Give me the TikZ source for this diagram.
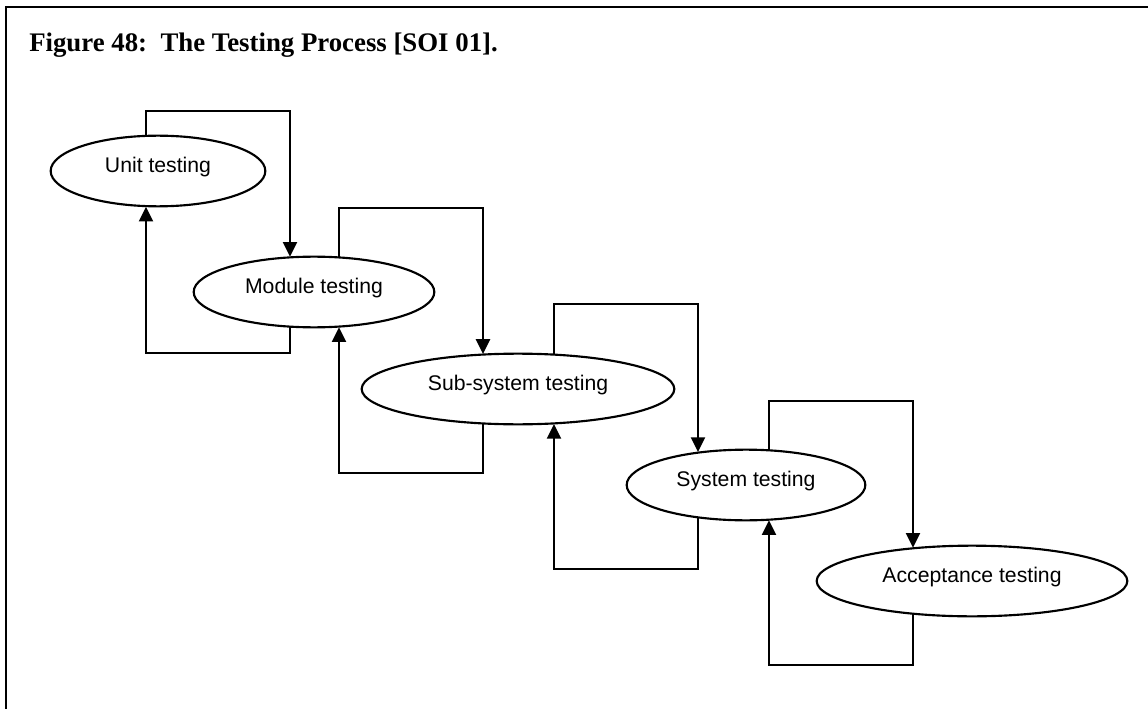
\documentclass[tikz,border=0pt]{standalone}
\usepackage{fontspec}
\setmainfont{Liberation Serif}
\newfontfamily\diagfont{Liberation Sans}
\usetikzlibrary{arrows.meta,shapes.geometric,calc}

\begin{document}
\begin{tikzpicture}[x=0.75pt,y=-0.75pt,
  stage/.style={draw, ellipse, line width=1.6pt, inner sep=0pt,
    minimum height=53pt,
    font=\diagfont\fontsize{15.9}{18}\selectfont,
    text height=0.72em, text depth=0.48em},
  flow/.style={line width=1.5pt, -{Triangle[length=11pt,width=10.5pt]}},
  frame/.style={line width=1.6pt}]
\useasboundingbox (0,0) rectangle (1148,709);

% page frame, open at the bottom
\draw[frame] (1148,7) -| (6,709);

% caption
\node[anchor=base west, inner sep=0pt,
      font=\bfseries\fontsize{20.1}{23}\selectfont] (title) at (29,52)
  {Figure 48:\ \ The Testing Process [SOI 01].};

% testing stages
\node[stage, minimum width=161pt] (unit)   at (158,171) {Unit testing};
\node[stage, minimum width=180.5pt] (module) at (314,292) {Module testing};
\node[stage, minimum width=234.5pt] (sub)    at (518,389) {Sub-system testing};
\node[stage, minimum width=179pt] (system) at (746,485) {System testing};
\node[stage, minimum width=233pt] (accept) at (972,581) {Acceptance testing};

% where the flow lines leave and enter the stages
\coordinate (u1t) at ($(unit.center)+(-12,-35.8)$);
\coordinate (u1b) at ($(unit.center)+(-12,35.8)$);
\coordinate (m1t) at ($(module.center)+(-24,-35.3)$);
\coordinate (m1b) at ($(module.center)+(-24,35.3)$);
\coordinate (m2t) at ($(module.center)+(25,-35.2)$);
\coordinate (m2b) at ($(module.center)+(25,35.2)$);
\coordinate (s1t) at ($(sub.center)+(-35,-35.1)$);
\coordinate (s1b) at ($(sub.center)+(-35,35.1)$);
\coordinate (s2t) at ($(sub.center)+(36,-35.0)$);
\coordinate (s2b) at ($(sub.center)+(36,35.0)$);
\coordinate (y1t) at ($(system.center)+(-48,-33.0)$);
\coordinate (y1b) at ($(system.center)+(-48,33.0)$);
\coordinate (y2t) at ($(system.center)+(23,-35.3)$);
\coordinate (y2b) at ($(system.center)+(23,35.3)$);
\coordinate (a1t) at ($(accept.center)+(-59,-33.3)$);
\coordinate (a1b) at ($(accept.center)+(-59,33.3)$);

% heights of the loop lines
\coordinate (top1) at (0,111);  \coordinate (bot1) at (0,353);
\coordinate (top2) at (0,208);  \coordinate (bot2) at (0,473);
\coordinate (top3) at (0,304);  \coordinate (bot3) at (0,569);
\coordinate (top4) at (0,401);  \coordinate (bot4) at (0,665);

% unit <-> module
\draw[flow] (u1t) -- (u1t |- top1) -| (m1t);
\draw[flow] (m1b) -- (m1b |- bot1) -| (u1b);

% module <-> sub-system
\draw[flow] (m2t) -- (m2t |- top2) -| (s1t);
\draw[flow] (s1b) -- (s1b |- bot2) -| (m2b);

% sub-system <-> system
\draw[flow] (s2t) -- (s2t |- top3) -| (y1t);
\draw[flow] (y1b) -- (y1b |- bot3) -| (s2b);

% system <-> acceptance
\draw[flow] (y2t) -- (y2t |- top4) -| (a1t);
\draw[flow] (a1b) -- (a1b |- bot4) -| (y2b);
\end{tikzpicture}
\end{document}
